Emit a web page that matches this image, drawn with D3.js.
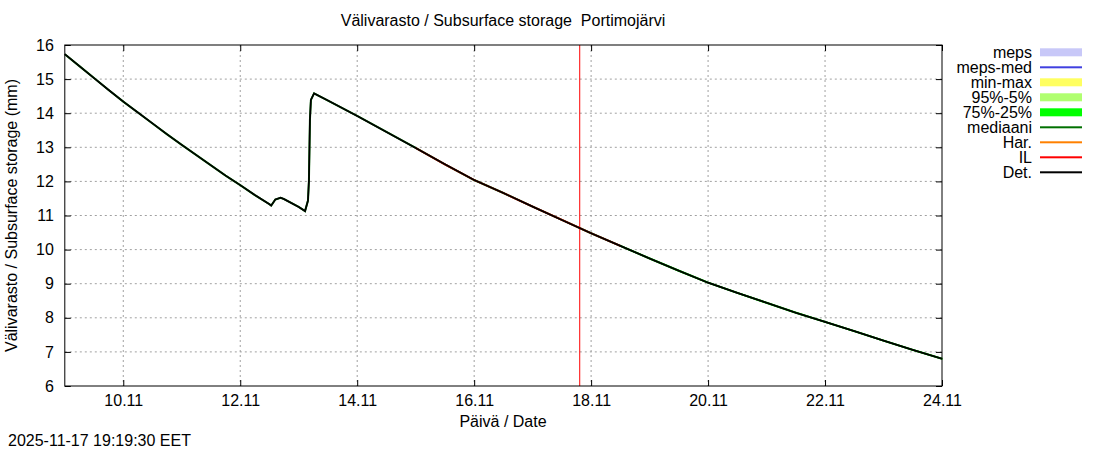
<!DOCTYPE html>
<html>
<head>
<meta charset="utf-8">
<script src="https://cdn.jsdelivr.net/npm/d3@7"></script>
<style>
  body { margin: 0; background: #fff; }
  text { font-family: "Liberation Sans", Arial, sans-serif; font-size: 16px; fill: #000; white-space: pre; }
</style>
</head>
<body>
<div id="chart"></div>
<script>
// hours counted from 2025-11-09 00:00
var startTime = Date.UTC(2025, 10, 9, 0, 0);
var endTime = Date.UTC(2025, 10, 24, 0, 0);
var forecastTime = Date.UTC(2025, 10, 17, 19, 19, 30);

var detHours = [0, 6, 12, 18, 24, 30, 36, 42, 48, 54, 60, 66, 72, 78, 84, 84.7, 86.4, 88.6, 90, 96, 98.6,
                99.8, 100.2, 100.6, 101.0, 102.3, 108, 120, 132, 144, 156, 168, 180, 192, 204, 216, 228,
                240, 252, 264, 276, 288, 300, 312, 324, 336, 348, 360];
var detValues = [15.73, 15.38, 15.03, 14.68, 14.34, 14.02, 13.70, 13.38, 13.07, 12.77, 12.47, 12.17, 11.89, 11.60, 11.33, 11.29, 11.47, 11.52, 11.48, 11.25, 11.13,
                 11.44, 12.04, 13.80, 14.39, 14.58, 14.37, 13.92, 13.45, 12.98, 12.50, 12.04, 11.66, 11.26, 10.87, 10.48, 10.11,
                 9.74, 9.38, 9.03, 8.73, 8.44, 8.15, 7.88, 7.61, 7.33, 7.06, 6.80];

var ilHours = [144, 156, 168, 180, 192, 204, 216, 228];
var ilValues = [12.98, 12.50, 12.04, 11.66, 11.26, 10.87, 10.48, 10.11];

var bandHours = [228, 240, 252, 264, 276, 288, 300, 312, 324, 336, 348, 360];
var bandLow = [10.10, 9.73, 9.37, 9.02, 8.72, 8.43, 8.14, 7.87, 7.60, 7.32, 7.05, 6.79];
var bandHigh = [10.12, 9.75, 9.39, 9.04, 8.74, 8.45, 8.16, 7.89, 7.62, 7.34, 7.07, 6.81];

var yTicks = [6, 7, 8, 9, 10, 11, 12, 13, 14, 15, 16];
var xTickDays = ["2025-11-10", "2025-11-12", "2025-11-14", "2025-11-16", "2025-11-18", "2025-11-20", "2025-11-22", "2025-11-24"];

var legendNames = ["meps", "meps-med", "min-max", "95%-5%", "75%-25%", "mediaani", "Har.", "IL", "Det."];
var legendColors = ["#c8c8f8", "#4040e0", "#ffff60", "#b0ff70", "#00ff00", "#007000", "#ff8000", "#ff0000", "#000000"];
var legendBands = [true, false, true, true, true, false, false, false, false];

var w = 1100, h = 450;
var pLeft = 64.8, pRight = 942, pTop = 45, pBottom = 386;

var svg = d3.select("#chart")
            .append("svg")
            .attr("width", w)
            .attr("height", h);

svg.append("rect").attr("width", w).attr("height", h).attr("fill", "#fff");

var x = d3.scaleUtc().domain([startTime, endTime]).range([pLeft, pRight]);
var y = d3.scaleLinear().domain([6, 16]).range([pBottom, pTop]);

function hourDate(hr) { return new Date(startTime + hr * 3600000); }
var xTicks = xTickDays.map(function(s) { return new Date(s + "T00:00:00Z"); });

// grid
svg.append("g").selectAll("line")
    .data(yTicks.filter(function(d) { return d > 6 && d < 16; }))
    .enter().append("line")
    .attr("x1", pLeft).attr("x2", pRight)
    .attr("y1", function(d) { return y(d); }).attr("y2", function(d) { return y(d); })
    .attr("stroke", "#a0a0a0").attr("stroke-dasharray", "2,3");

svg.append("g").selectAll("line")
    .data(xTicks.filter(function(d) { return x(d) < pRight - 1; }))
    .enter().append("line")
    .attr("y1", pTop).attr("y2", pBottom)
    .attr("x1", function(d) { return x(d); }).attr("x2", function(d) { return x(d); })
    .attr("stroke", "#a0a0a0").attr("stroke-dasharray", "2,3");

// axes, gnuplot style ticks pointing inward
var fmt = d3.utcFormat("%d.%m");
svg.append("g").attr("transform", "translate(" + pLeft + ",0)")
    .call(d3.axisLeft(y).tickValues(yTicks).tickSize(-6).tickPadding(11).tickFormat(d3.format("d")))
    .call(function(g) { g.select(".domain").remove(); });
svg.append("g").attr("transform", "translate(" + pRight + ",0)")
    .call(d3.axisRight(y).tickValues(yTicks).tickSize(-6).tickFormat(""))
    .call(function(g) { g.select(".domain").remove(); });
svg.append("g").attr("transform", "translate(0," + pBottom + ")")
    .call(d3.axisBottom(x).tickValues(xTicks).tickSize(-6).tickPadding(9).tickFormat(fmt))
    .call(function(g) { g.select(".domain").remove(); });
svg.append("g").attr("transform", "translate(0," + pTop + ")")
    .call(d3.axisTop(x).tickValues(xTicks).tickSize(-6).tickFormat(""))
    .call(function(g) { g.select(".domain").remove(); });

svg.selectAll(".tick text").style("font-family", "Liberation Sans, Arial, sans-serif").style("font-size", "16px").attr("fill", "#000");
svg.selectAll(".tick line").attr("stroke", "#000");

// series
var band = d3.area()
    .x(function(d, i) { return x(hourDate(bandHours[i])); })
    .y0(function(d, i) { return y(bandLow[i]); })
    .y1(function(d, i) { return y(bandHigh[i]); });
svg.append("path").datum(bandHours).attr("d", band).attr("fill", "#00ff00").attr("stroke", "#00ff00").attr("stroke-width", 1.2);

var line = function(hrs) {
    return d3.line()
        .x(function(d, i) { return x(hourDate(hrs[i])); })
        .y(function(d) { return y(d); });
};

svg.append("path").datum(detValues).attr("d", line(detHours))
    .attr("fill", "none").attr("stroke", "#007000").attr("stroke-width", 2);
svg.append("path").datum(ilValues).attr("d", line(ilHours))
    .attr("fill", "none").attr("stroke", "#ff0000").attr("stroke-width", 1.8);

// forecast time
svg.append("line")
    .attr("x1", x(forecastTime)).attr("x2", x(forecastTime))
    .attr("y1", pTop).attr("y2", pBottom)
    .attr("stroke", "#ff0000").attr("stroke-width", 1);

svg.append("path").datum(detValues).attr("d", line(detHours))
    .attr("fill", "none").attr("stroke", "#000").attr("stroke-width", 1.7);

// border
svg.append("rect")
    .attr("x", pLeft).attr("y", pTop)
    .attr("width", pRight - pLeft).attr("height", pBottom - pTop)
    .attr("fill", "none").attr("stroke", "#000").attr("stroke-width", 1);

// texts
svg.append("text").attr("x", 503).attr("y", 26).attr("text-anchor", "middle")
    .text("Välivarasto / Subsurface storage  Portimojärvi");
svg.append("text").attr("x", 503).attr("y", 427).attr("text-anchor", "middle")
    .text("Päivä / Date");
svg.append("text").attr("x", 8).attr("y", 446)
    .text("2025-11-17 19:19:30 EET");
svg.append("text")
    .attr("transform", "translate(17," + ((pTop + pBottom) / 2) + ") rotate(-90)")
    .attr("text-anchor", "middle")
    .text("Välivarasto / Subsurface storage (mm)");

// legend
var leg = svg.append("g").selectAll("g")
    .data(legendNames)
    .enter().append("g")
    .attr("transform", function(d, i) { return "translate(0," + (52.3 + i * 15) + ")"; });

leg.append("text")
    .attr("x", 1032).attr("y", 5.5).attr("text-anchor", "end")
    .text(function(d) { return d; });

leg.append("rect")
    .attr("x", 1040).attr("width", 42)
    .attr("y", function(d, i) { return legendBands[i] ? -4 : -1; })
    .attr("height", function(d, i) { return legendBands[i] ? 8 : 2; })
    .attr("fill", function(d, i) { return legendColors[i]; });
</script>
</body>
</html>
